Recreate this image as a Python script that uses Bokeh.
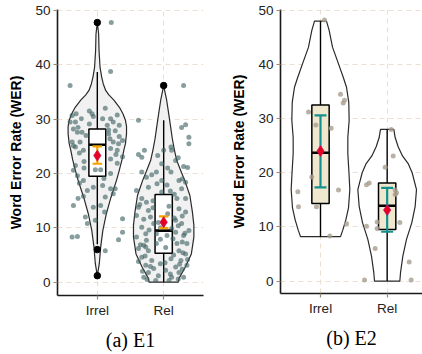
import numpy as np
from bokeh.plotting import figure
from bokeh.layouts import row
from bokeh.models import FixedTicker, Title, GlobalInlineStyleSheet
from bokeh.embed import file_html
from bokeh.resources import INLINE

# ---------------- data ----------------
categories = ["Irrel", "Rel"]
y_ticks = [0, 10, 20, 30, 40, 50]
captions = ["(a) E1", "(b) E2"]
y_title = "Word Error Rate (WER)"

# violin outlines: WER level and half width (category units)
e1_irrel_vy = [1.2, 3.4, 6.4, 9.5, 12.6, 15.6, 18.7, 20.5, 22.5, 24.3, 25.5, 27.3, 28.7, 29.8,
               31.0, 32.2, 33.5, 34.5, 35.3, 36.5, 37.8, 39.6, 42.6, 45.7, 47.8]
e1_irrel_vw = [0.0, 0.03, 0.05, 0.083, 0.136, 0.205, 0.288, 0.329, 0.371, 0.40, 0.424, 0.44, 0.44,
               0.424, 0.386, 0.333, 0.25, 0.174, 0.126, 0.09, 0.065, 0.041, 0.026, 0.02, 0.0]
e1_rel_vy = [0.0, 0.8, 2.8, 5.2, 8.3, 10.5, 13.0, 16.0, 18.7, 20.3, 22.4, 24.5, 26.5, 28.5,
             31.0, 33.5, 34.8, 36.2]
e1_rel_vw = [0.22, 0.235, 0.326, 0.417, 0.455, 0.455, 0.432, 0.394, 0.318, 0.265, 0.197, 0.159,
             0.129, 0.106, 0.076, 0.045, 0.023, 0.0]
e2_irrel_vy = [8.2, 9.4, 11.3, 13.5, 16.9, 20.0, 23.5, 26.5, 29.7, 33.0, 35.8, 37.5, 40.1, 43.2, 46.3, 48.0]
e2_irrel_vw = [0.30, 0.334, 0.38, 0.42, 0.44, 0.427, 0.41, 0.41, 0.43, 0.424, 0.39, 0.345, 0.27,
               0.18, 0.13, 0.09]
e2_rel_vy = [0.0, 1.5, 4.6, 7.7, 10.8, 13.8, 16.9, 20.0, 21.7, 23.1, 24.8, 26.5, 28.0]
e2_rel_vw = [0.19, 0.20, 0.235, 0.29, 0.37, 0.42, 0.44, 0.375, 0.315, 0.23, 0.165, 0.12, 0.10]

# box stats: lower whisker, q1, median, q3, upper whisker
e1_box_irrel = [7.0, 19.5, 25.3, 28.2, 38.7]
e1_box_rel = [0.0, 5.35, 9.5, 16.15, 29.8]
e1_outliers_irrel = [47.8, 6.0, 1.2]
e1_outliers_rel = [36.2]
e1_mean = [23.3, 11.05]
e1_ci_low = [21.8, 9.95]
e1_ci_high = [25.0, 12.1]

e2_box_irrel = [8.2, 14.3, 23.7, 32.5, 48.0]
e2_box_rel = [0.0, 9.5, 13.9, 18.1, 28.0]
e2_mean = [24.0, 13.1]
e2_ci_low = [17.3, 9.1]
e2_ci_high = [30.6, 17.2]

# jittered observations: WER and horizontal jitter (category units)
e1_irrel_y = [47.8, 38.8, 36.2, 31.0, 30.7, 29.5, 29.5, 30.1, 31.0, 30.5, 30.1, 30.1, 29.5, 28.9,
              28.9, 28.2, 28.5, 27.6, 27.6, 27.3, 27.9, 25.8, 25.5, 26.1, 25.8, 25.8, 24.9, 24.3,
              24.6, 24.3, 23.1, 22.7, 21.5, 20.6, 19.6, 20.7, 20.7, 20.0, 18.7, 17.5, 17.8, 17.2,
              17.2, 16.9, 15.4, 15.8, 15.7, 16.3, 14.1, 13.8, 14.1, 12.9, 12.0, 11.7, 11.4, 10.8,
              9.2, 8.3, 8.4, 7.8, 5.8,
              29.1, 28.0, 27.0, 26.4, 25.1, 23.8, 23.5, 22.2, 21.9, 21.0, 19.1, 18.2, 30.8, 31.5,
              32.0, 26.8]
e1_irrel_j = [0.21, 0.20, -0.41, -0.32, -0.38, -0.41, -0.33, -0.24, -0.08, -0.06, 0.08, 0.20, 0.24,
              0.15, 0.33, -0.36, -0.29, -0.30, -0.23, 0.17, 0.27, 0.24, 0.32, 0.38, -0.38, -0.26,
              -0.33, -0.21, 0.20, 0.30, 0.38, 0.20, -0.33, -0.36, -0.30, -0.03, 0.05, 0.20, -0.21,
              -0.06, 0.08, 0.20, 0.27, -0.15, -0.29, -0.21, 0.12, 0.24, -0.36, -0.06, 0.05, 0.11,
              -0.18, 0.38, -0.03, -0.15, 0.38, -0.38, -0.30, 0.32, 0.12,
              -0.12, 0.17, -0.17, 0.19, -0.36, -0.27, 0.28, -0.20, 0.30, -0.20, 0.10, -0.27, 0.30,
              -0.12, 0.12, 0.33]
e1_rel_y = [36.2, 29.8, 28.5, 29.0, 26.7, 25.5, 24.3, 23.5, 23.0, 24.3, 24.9, 24.3, 23.3, 21.8,
            22.4, 21.3, 21.1, 20.3, 20.3, 20.3, 18.7, 19.3, 18.7, 18.4, 16.9, 17.5, 16.6, 17.2,
            15.4, 14.7, 15.4, 15.4, 13.8, 13.2, 13.5, 12.9, 12.3, 12.0, 11.4, 10.8, 10.1, 10.8,
            8.3, 8.9, 8.9, 8.6, 9.2, 8.6, 9.5, 7.7, 7.1, 6.4, 7.1, 7.1, 6.2, 5.8, 5.8, 5.2, 4.6,
            4.0, 4.3, 4.0, 3.1, 3.4, 2.8, 3.1, 1.8, 2.2, 1.8, 0.9, 0.9, 0.9, 0.3, 0.3, 11.0, 14.0,
            6.8, 2.5, 9.9, 12.6,
            19.8, 17.9, 16.2, 15.0, 14.3, 12.2, 11.6, 10.4, 10.0, 9.6, 8.0, 7.4, 6.9, 5.0, 4.8,
            4.2, 3.8, 3.6, 2.9, 2.4, 2.0, 1.5, 1.2, 0.6, 0.5, 13.7, 11.8, 9.0, 7.9, 6.5, 5.4, 3.3,
            16.8, 18.1, 21.0, 19.0, 22.9]
e1_rel_j = [0.30, -0.38, 0.27, 0.33, 0.38, 0.38, -0.29, -0.38, -0.33, 0.0, 0.11, 0.12, -0.09,
            -0.03, 0.18, 0.30, 0.36, -0.33, -0.11, 0.11, -0.03, -0.26, 0.23, 0.33, -0.41, -0.23,
            -0.03, 0.27, -0.33, -0.26, 0.20, 0.33, -0.38, -0.23, 0.23, 0.33, -0.41, -0.20, 0.18,
            0.27, -0.33, -0.15, -0.41, -0.27, -0.11, 0.05, 0.18, 0.30, 0.38, -0.26, -0.11, 0.03,
            0.20, 0.35, -0.38, -0.23, 0.23, 0.33, -0.33, -0.18, 0.11, 0.26, -0.27, -0.05, 0.18,
            0.35, -0.23, 0.03, 0.23, -0.30, 0.12, 0.30, -0.12, 0.08, -0.08, 0.08, -0.30, -0.15,
            0.12, 0.06,
            -0.18, 0.05, 0.16, -0.16, -0.36, 0.28, -0.30, 0.22, -0.05, -0.22, 0.14, 0.28, -0.35,
            0.15, -0.28, 0.36, -0.38, 0.02, -0.20, 0.28, -0.32, 0.10, -0.08, 0.22, -0.25, -0.16,
            0.16, 0.32, -0.05, -0.27, 0.29, 0.24, 0.10, -0.10, 0.06, 0.28, 0.22]
e2_irrel_y = [48.2, 34.5, 33.4, 32.9, 31.2, 28.8, 28.2, 19.2, 16.5, 16.8, 13.7, 13.7, 10.6, 8.3]
e2_irrel_j = [0.06, 0.30, 0.36, 0.34, -0.18, -0.07, 0.16, -0.13, -0.34, 0.27, -0.33, -0.06, 0.39, 0.14]
e2_rel_y = [28.0, 23.1, 21.0, 17.8, 18.1, 16.8, 16.3, 16.0, 10.1, 10.9, 10.8, 9.7, 6.0, 3.5, 0.2, 0.2]
e2_rel_j = [0.06, 0.09, -0.03, -0.31, -0.27, 0.12, 0.14, 0.12, -0.31, -0.15, 0.19, -0.15, -0.18,
            0.33, -0.34, 0.36]

# ---------------- styling helpers ----------------
GRID = "#ebdfd2"
TICK = "#9b8a78"
SANS = "Liberation Sans"


def base_figure(fw, fh, x_end, y_range, left, right, top, bottom):
    p = figure(frame_width=fw, frame_height=fh, x_range=(0.4, x_end), y_range=y_range,
               output_backend="svg", toolbar_location=None, title=None,
               min_border_left=left, min_border_right=right,
               min_border_top=top, min_border_bottom=bottom)
    p.outline_line_color = None
    p.background_fill_color = "white"
    p.border_fill_color = "white"
    xs = list(range(1, len(categories) + 1))
    p.xaxis.ticker = FixedTicker(ticks=xs)
    p.xaxis.major_label_overrides = {x: c for x, c in zip(xs, categories)}
    p.yaxis.ticker = FixedTicker(ticks=y_ticks)
    p.xgrid.ticker = FixedTicker(ticks=xs)
    p.ygrid.ticker = FixedTicker(ticks=y_ticks)
    for g in (p.xgrid, p.ygrid):
        g.grid_line_color = GRID
        g.grid_line_dash = "5 4"
        g.grid_line_width = 1.1
    for ax in (p.xaxis, p.yaxis):
        ax.axis_line_color = "#1a1a1a"
        ax.axis_line_width = 1.6
        ax.major_tick_line_color = TICK
        ax.major_tick_line_width = 1.2
        ax.major_tick_out = 4
        ax.major_tick_in = 0
        ax.minor_tick_line_color = None
        ax.major_label_text_font = SANS
        ax.major_label_text_font_size = "13.5px"
        ax.major_label_text_color = "#222222"
        ax.major_label_standoff = 3
    p.yaxis.axis_label = y_title
    p.yaxis.axis_label_text_font = SANS
    p.yaxis.axis_label_text_font_style = "bold"
    p.yaxis.axis_label_text_font_size = "14px"
    p.yaxis.axis_label_text_color = "black"
    p.yaxis.axis_label_standoff = 8
    return p


def violin(p, center, vy, vw, fill):
    vy = np.asarray(vy)
    vw = np.asarray(vw)
    xs = np.concatenate([center + vw, (center - vw)[::-1]])
    ys = np.concatenate([vy, vy[::-1]])
    p.patch(xs, ys, fill_color=fill, line_color="#2a2a2a", line_width=1.2)


def boxplot(p, center, stats, half, fill):
    lo, q1, med, q3, hi = stats
    p.segment(x0=[center, center], y0=[lo, q3], x1=[center, center], y1=[q1, hi],
              line_color="black", line_width=1.4)
    p.quad(left=center - half, right=center + half, bottom=q1, top=q3,
           fill_color=fill, line_color="black", line_width=1.5)
    p.segment(x0=center - half, y0=med, x1=center + half, y1=med,
              line_color="black", line_width=2.6)


def errbar(p, centers, lo, hi, cap, color):
    c = np.asarray(centers, dtype=float)
    p.segment(x0=c, y0=lo, x1=c, y1=hi, line_color=color, line_width=2.2)
    p.segment(x0=c - cap, y0=lo, x1=c + cap, y1=lo, line_color=color, line_width=2.2)
    p.segment(x0=c - cap, y0=hi, x1=c + cap, y1=hi, line_color=color, line_width=2.2)


def caption(p, text, offset):
    t = Title(text=text, align="center", offset=offset, text_font="Liberation Serif",
              text_font_size="20px", text_font_style="normal", text_color="black", standoff=12)
    p.add_layout(t, "below")


centers = [1, 2]

# ---------------- panel (a) E1 ----------------
pa = base_figure(146, 286, 2.6, (-2.45, 50.2), 57, 19, 5, 59)
violin(pa, 1, e1_irrel_vy, e1_irrel_vw, "#f1f1f1")
violin(pa, 2, e1_rel_vy, e1_rel_vw, "#f1f1f1")
boxplot(pa, 1, e1_box_irrel, 0.127, "white")
boxplot(pa, 2, e1_box_rel, 0.13, "white")
pa.scatter(np.array(e1_irrel_j) + 1, e1_irrel_y, size=5, fill_color="#3f6262",
           line_color=None, fill_alpha=0.62)
pa.scatter(np.array(e1_rel_j) + 2, e1_rel_y, size=5, fill_color="#3f6262",
           line_color=None, fill_alpha=0.62)
pa.scatter([1] * len(e1_outliers_irrel), e1_outliers_irrel, size=6.5, color="black")
pa.scatter([2] * len(e1_outliers_rel), e1_outliers_rel, size=6.5, color="black")
errbar(pa, centers, e1_ci_low, e1_ci_high, 0.072, "#f4a300")
pa.scatter(centers, e1_mean, marker="diamond", size=11, fill_color="#e8001c",
           line_color="#c0106a", line_width=0.7)
caption(pa, captions[0], -28)

# ---------------- panel (b) E2 ----------------
pb = base_figure(142, 284, 2.53, (-2.3, 50.15), 58, 0, 9, 57)
violin(pb, 1, e2_irrel_vy, e2_irrel_vw, "white")
violin(pb, 2, e2_rel_vy, e2_rel_vw, "white")
boxplot(pb, 1, e2_box_irrel, 0.13, "#efe8cf")
boxplot(pb, 2, e2_box_rel, 0.13, "#efe8cf")
pb.scatter(np.array(e2_irrel_j) + 1, e2_irrel_y, size=5, fill_color="#a89e8f",
           line_color=None, fill_alpha=0.8)
pb.scatter(np.array(e2_rel_j) + 2, e2_rel_y, size=5, fill_color="#a89e8f",
           line_color=None, fill_alpha=0.8)
errbar(pb, centers, e2_ci_low, e2_ci_high, 0.09, "#14918c")
pb.scatter(centers, e2_mean, marker="diamond", size=11, fill_color="#e8001c",
           line_color="#c0106a", line_width=0.7)
caption(pb, captions[1], -22)

layout = row(pa, pb, stylesheets=[GlobalInlineStyleSheet(css="body { margin: 0 !important; }")])

open("out.html", "w").write(file_html(layout, INLINE))
